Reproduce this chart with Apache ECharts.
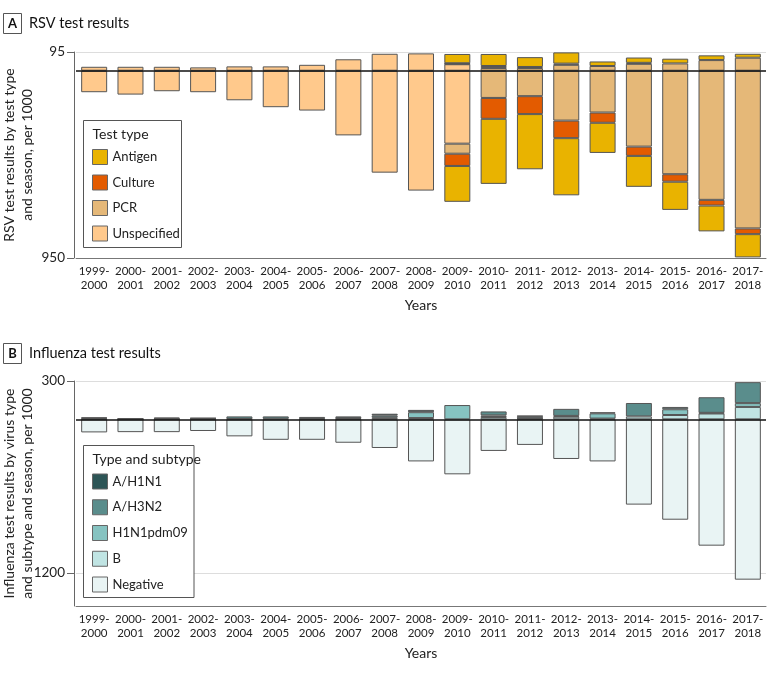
<!DOCTYPE html>
<html>
<head>
<meta charset="utf-8">
<script src="https://cdn.jsdelivr.net/npm/echarts@6/dist/echarts.min.js"></script>
<style>
  html, body { margin: 0; padding: 0; background: #fff; }
  #chart { width: 780px; height: 674px; }
</style>
</head>
<body>
<div id="chart"></div>
<script>
const FONT = 'Lato, sans-serif'

const seasons = ['1999-\n2000', '2000-\n2001', '2001-\n2002', '2002-\n2003', '2003-\n2004', '2004-\n2005',
    '2005-\n2006', '2006-\n2007', '2007-\n2008', '2008-\n2009', '2009-\n2010', '2010-\n2011', '2011-\n2012',
    '2012-\n2013', '2013-\n2014', '2014-\n2015', '2015-\n2016', '2016-\n2017', '2017-\n2018']

// RSV, per 1000: positive results (above the line) and negative results (below)
const rsvPosUnspecified = [20, 20, 20, 17, 22, 22, 30, 58, 86, 88, 33, 0, 0, 0, 0, 0, 0, 0, 0]
const rsvPosPcr = [0, 0, 0, 0, 0, 0, 0, 0, 0, 0, 2, 14, 14, 30, 24, 35, 37, 54, 66]
const rsvPosCulture = [0, 0, 0, 0, 0, 0, 0, 0, 0, 0, 3, 10, 5, 6, 0, 5, 0, 0, 0]
const rsvPosAntigen = [0, 0, 0, 0, 0, 0, 0, 0, 0, 0, 47, 61, 50, 57, 23, 27, 24, 24, 20]
const rsvNegUnspecified = [109, 121, 104, 109, 150, 185, 202, 328, 517, 608, 370, 0, 0, 0, 0, 0, 0, 0, 0]
const rsvNegPcr = [0, 0, 0, 0, 0, 0, 0, 0, 0, 0, 51, 138, 129, 253, 212, 385, 525, 655, 800]
const rsvNegCulture = [0, 0, 0, 0, 0, 0, 0, 0, 0, 0, 62, 106, 91, 89, 52, 47, 38, 29, 29]
const rsvNegAntigen = [0, 0, 0, 0, 0, 0, 0, 0, 0, 0, 182, 330, 280, 290, 153, 157, 143, 131, 118]

// Influenza, per 1000
const fluB = [2, 1, 2, 2, 3, 5, 3, 3, 12, 10, 0, 18, 5, 21, 6, 23, 34, 46, 97]
const fluPdm09 = [0, 0, 0, 0, 0, 0, 0, 0, 0, 46, 112, 13, 4, 6, 41, 0, 45, 5, 30]
const fluH3N2 = [8, 2, 4, 6, 20, 18, 16, 6, 17, 0, 0, 31, 15, 55, 8, 105, 18, 122, 164]
const fluH1N1 = [4, 5, 8, 2, 0, 0, 0, 14, 15, 18, 0, 0, 3, 0, 0, 0, 0, 0, 0]
const fluNegative = [102, 100, 100, 91, 133, 160, 160, 183, 224, 329, 430, 247, 200, 310, 329, 667, 785, 988, 1254]

const rsvTicks = [-950, 95]
const fluTicks = [-1200, 300]

const colors = {
    Antigen: '#E9B300',
    Culture: '#E35B00',
    PCR: '#E5B878',
    Unspecified: '#FFC98C',
    'A/H1N1': '#2D5556',
    'A/H3N2': '#5A8D8C',
    H1N1pdm09: '#86C3C1',
    B: '#C0E4E3',
    Negative: '#E9F4F4'
}

function bar(name, values, panel, sign) {
    return {
        name: name,
        type: 'bar',
        xAxisIndex: panel,
        yAxisIndex: panel,
        stack: 'panel' + panel,
        barWidth: 26,
        data: values.map(v => v === 0 ? null : v * sign),
        itemStyle: { color: colors[name], borderColor: '#555', borderWidth: 1 }
    }
}

function zeroLine() {
    return {
        silent: true,
        symbol: 'none',
        label: { show: false },
        lineStyle: { color: '#111', width: 1.5, type: 'solid' },
        data: [{ yAxis: 0 }]
    }
}

function xAxis(panel) {
    return {
        type: 'category',
        gridIndex: panel,
        data: seasons,
        axisLine: { onZero: false, lineStyle: { color: '#777' } },
        axisTick: { show: false },
        axisLabel: { color: '#222', fontFamily: FONT, fontSize: 11.5, lineHeight: 14, margin: 6, interval: 0 },
        name: 'Years',
        nameLocation: 'middle',
        nameGap: 40,
        nameMoveOverlap: false,
        nameTextStyle: { color: '#222', fontFamily: FONT, fontSize: 14 }
    }
}

function yAxis(panel, min, max, ticks, name) {
    return {
        type: 'value',
        gridIndex: panel,
        min: min,
        max: max,
        offset: 2,
        axisLine: { show: true, lineStyle: { color: '#666' } },
        axisTick: { show: true, length: 7, customValues: ticks, lineStyle: { color: '#666' } },
        axisLabel: {
            customValues: ticks,
            color: '#222', fontFamily: FONT, fontSize: 13.5, margin: 9,
            formatter: v => String(Math.abs(v))
        },
        splitLine: { show: true, lineStyle: { color: '#ddd', width: 1 } },
        name: name,
        nameLocation: 'middle',
        nameGap: 38,
        nameMoveOverlap: false,
        nameTextStyle: { color: '#222', fontFamily: FONT, fontSize: 14, lineHeight: 18 }
    }
}

function legendBox(x, y, w, h, title) {
    return [
        { type: 'rect', z: 5, shape: { x: x, y: y, width: w, height: h }, style: { fill: '#fff', stroke: '#555', lineWidth: 1 } },
        { type: 'text', z: 11, x: x + 9, y: y + 14, style: { text: title, fill: '#222', font: '14px ' + FONT, verticalAlign: 'middle' } }
    ]
}

function panelTitle(y, letter, title) {
    return [
        { type: 'rect', shape: { x: 3.5, y: y - 10, width: 18, height: 20 }, style: { fill: '#fff', stroke: '#555', lineWidth: 1 } },
        { type: 'text', x: 12.5, y: y, style: { text: letter, fill: '#111', font: 'bold 13px ' + FONT, align: 'center', verticalAlign: 'middle' } },
        { type: 'text', x: 29, y: y, style: { text: title, fill: '#111', font: '14.5px ' + FONT, verticalAlign: 'middle' } }
    ]
}

const chart = echarts.init(document.getElementById('chart'))
chart.setOption({
    animation: false,
    backgroundColor: '#fff',
    grid: [
        { left: 76, right: 14, top: 52, height: 206, outerBoundsMode: 'none' },
        { left: 76, right: 14, top: 381, height: 225, outerBoundsMode: 'none' }
    ],
    xAxis: [xAxis(0), xAxis(1)],
    yAxis: [
        yAxis(0, -950, 95, rsvTicks, 'RSV test results by test type\nand season, per 1000'),
        yAxis(1, -1460, 300, fluTicks, 'Influenza test results by virus type\nand subtype and season, per 1000')
    ],
    legend: [
        {
            data: ['Antigen', 'Culture', 'PCR', 'Unspecified'],
            orient: 'vertical', left: 92, top: 149, padding: 0, z: 10,
            itemWidth: 15, itemHeight: 15, itemGap: 9.5, icon: 'rect',
            itemStyle: { borderColor: '#666', borderWidth: 1 },
            textStyle: { color: '#222', fontFamily: FONT, fontSize: 13 }
        },
        {
            data: ['A/H1N1', 'A/H3N2', 'H1N1pdm09', 'B', 'Negative'],
            orient: 'vertical', left: 92, top: 473.5, padding: 0, z: 10,
            itemWidth: 15, itemHeight: 15, itemGap: 9.75, icon: 'rect',
            itemStyle: { borderColor: '#666', borderWidth: 1 },
            textStyle: { color: '#222', fontFamily: FONT, fontSize: 13 }
        }
    ],
    graphic: [
        ...panelTitle(23.5, 'A', 'RSV test results'),
        ...panelTitle(353.5, 'B', 'Influenza test results'),
        ...legendBox(83.5, 120.5, 98, 127, 'Test type'),
        ...legendBox(83.5, 445.5, 110.5, 152, 'Type and subtype')
    ],
    series: [
        Object.assign(bar('Unspecified', rsvPosUnspecified, 0, 1), { markLine: zeroLine() }),
        bar('PCR', rsvPosPcr, 0, 1),
        bar('Culture', rsvPosCulture, 0, 1),
        bar('Antigen', rsvPosAntigen, 0, 1),
        bar('Unspecified', rsvNegUnspecified, 0, -1),
        bar('PCR', rsvNegPcr, 0, -1),
        bar('Culture', rsvNegCulture, 0, -1),
        bar('Antigen', rsvNegAntigen, 0, -1),

        Object.assign(bar('B', fluB, 1, 1), { markLine: zeroLine() }),
        bar('H1N1pdm09', fluPdm09, 1, 1),
        bar('A/H3N2', fluH3N2, 1, 1),
        bar('A/H1N1', fluH1N1, 1, 1),
        bar('Negative', fluNegative, 1, -1)
    ]
})
</script>
</body>
</html>
